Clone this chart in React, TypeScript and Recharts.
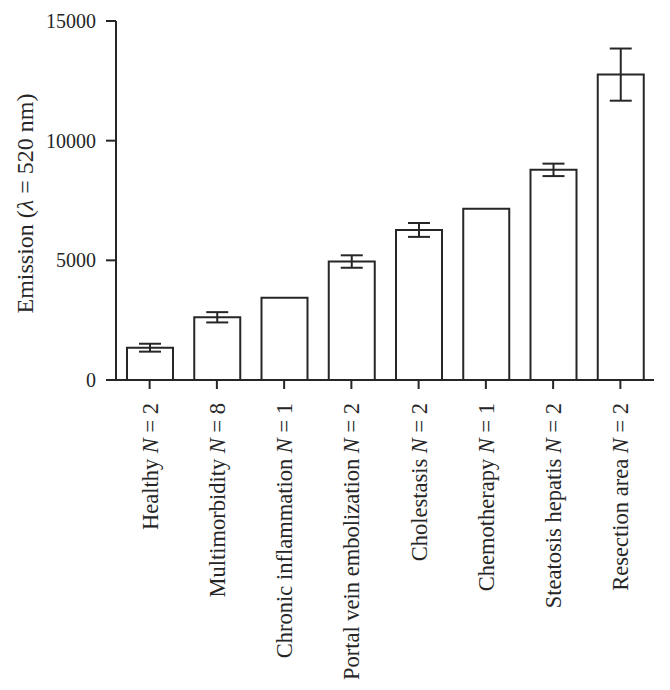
import React from 'react'
import { Bar, BarChart, ErrorBar, XAxis, YAxis } from 'recharts'

const groups = ['Healthy', 'Multimorbidity', 'Chronic inflammation', 'Portal vein embolization', 'Cholestasis', 'Chemotherapy', 'Steatosis hepatis', 'Resection area']
const counts = [2, 8, 1, 2, 2, 1, 2, 2]
const emission = [1350, 2620, 3440, 4950, 6270, 7160, 8780, 12760]
const errors = [165, 215, 0, 260, 290, 0, 260, 1090]
const yTicks = [0, 5000, 10000, 15000]

const data = groups.map((name, i) => ({
  name,
  n: counts[i],
  value: emission[i],
  err: errors[i],
}))

const ink = '#262626'
const font = '"Liberation Serif", "DejaVu Serif", serif'

const GroupTick = (props: any) => {
  const { x, y, payload } = props
  const row = data[payload.index] ?? data.find((d) => d.name === payload.value)
  return (
    <g transform={`translate(${x},${y})`}>
      <text transform="rotate(-90)" x={-12} y={0} dy="0.36em" textAnchor="end" fill={ink} fontSize={22.5} fontFamily={font}>
        {payload.value} <tspan fontStyle="italic">N</tspan> = {row ? row.n : ''}
      </text>
    </g>
  )
}

const YTitle = (props: any) => {
  const { viewBox } = props
  const cx = 16
  const cy = viewBox.y + viewBox.height / 2 + 3
  return (
    <text transform={`rotate(-90, ${cx}, ${cy})`} x={cx} y={cy} dy="0.36em" textAnchor="middle" fill={ink} fontSize={24} fontFamily={font}>
      Emission (<tspan fontStyle="italic">λ</tspan> = 520 nm)
    </text>
  )
}

export default function App() {
  return (
    <div style={{ width: 654, height: 674, background: '#fff' }}>
      <BarChart width={654} height={674} data={data} margin={{ top: 13, right: 8, left: 0, bottom: 0 }} barSize={46}>
        <XAxis
          dataKey="name"
          interval={0}
          height={302}
          tick={<GroupTick />}
          tickSize={9}
          axisLine={{ stroke: ink, strokeWidth: 2 }}
          tickLine={{ stroke: ink, strokeWidth: 2 }}
        />
        <YAxis
          width={108}
          domain={[0, 15000]}
          ticks={yTicks}
          tickSize={10}
          tickMargin={10}
          axisLine={{ stroke: ink, strokeWidth: 2 }}
          tickLine={{ stroke: ink, strokeWidth: 2 }}
          tick={{ fill: ink, fontSize: 20, fontFamily: font }}
          label={<YTitle />}
        />
        <Bar dataKey="value" fill="#fff" stroke={ink} strokeWidth={2} isAnimationActive={false}>
          <ErrorBar dataKey="err" width={11} stroke={ink} strokeWidth={2} isAnimationActive={false} />
        </Bar>
      </BarChart>
    </div>
  )
}
